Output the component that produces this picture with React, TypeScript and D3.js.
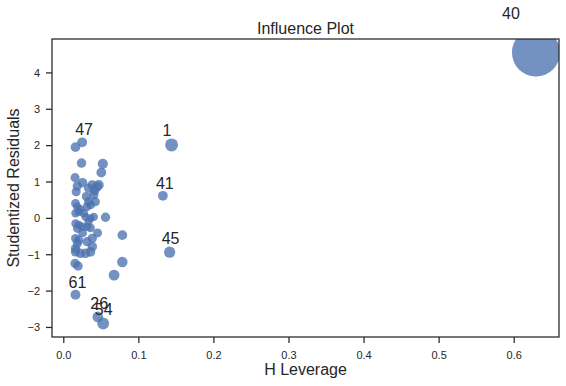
import * as d3 from 'd3';

// observation ids, leverage (hat), studentized residuals, cook's distance (relative)
const obsIds = [
  40, 1, 41, 45, 61, 26, 54, 47,
  2, 3, 4, 5, 6,
  7, 8, 9, 10, 11, 12,
  13, 14, 15, 16, 17, 18, 19, 20,
  21, 22, 23, 24, 25, 27,
  28, 29, 30, 31, 32, 33,
  34, 35, 36, 37, 38, 39, 42,
  43, 44, 46, 48, 49, 50, 51,
  52, 53, 55, 56,
  57, 58, 59, 60, 62,
];
const leverage = [
  0.629, 0.1436, 0.132, 0.141, 0.0156, 0.0453, 0.0525, 0.0245,
  0.0156, 0.0236, 0.052, 0.05, 0.015,
  0.0556, 0.078, 0.078, 0.067, 0.015, 0.019,
  0.018, 0.025, 0.038, 0.0445, 0.041, 0.0467, 0.033, 0.0165,
  0.0156, 0.018, 0.033, 0.0356, 0.031, 0.042,
  0.0156, 0.02, 0.0267, 0.029, 0.0356, 0.04,
  0.0156, 0.02, 0.018, 0.0245, 0.033, 0.031, 0.0356,
  0.0156, 0.02, 0.018, 0.0156, 0.031, 0.038, 0.038,
  0.0156, 0.022, 0.029, 0.0356,
  0.03, 0.022, 0.045, 0.025, 0.04,
];
const residuals = [
  4.56, 2.02, 0.62, -0.93, -2.1, -2.71, -2.89, 2.09,
  1.96, 1.52, 1.5, 1.26, 1.12,
  0.03, -0.46, -1.2, -1.56, -1.24, -1.31,
  0.89, 0.98, 0.92, 0.87, 0.76, 0.92, 0.83, 0.73,
  0.41, 0.32, 0.46, 0.37, 0.32, 0.46,
  0.14, 0.18, 0.14, 0.04, 0.0, 0.04,
  -0.14, -0.18, -0.28, -0.23, -0.09, -0.23, -0.26,
  -0.55, -0.6, -0.69, -0.83, -0.64, -0.55, -0.78,
  -0.92, -0.96, -0.96, -0.92,
  0.6, 0.25, -0.4, -0.4, 0.65,
];
const cooks = [
  1.0, 0.048, 0.016, 0.03, 0.017, 0.024, 0.036, 0.017,
  0.016, 0.014, 0.02, 0.016, 0.01,
  0.012, 0.016, 0.022, 0.026, 0.012, 0.013,
  0.012, 0.014, 0.014, 0.015, 0.013, 0.016, 0.012, 0.01,
  0.008, 0.007, 0.01, 0.009, 0.008, 0.011,
  0.005, 0.006, 0.006, 0.004, 0.002, 0.004,
  0.005, 0.006, 0.007, 0.006, 0.004, 0.006, 0.007,
  0.009, 0.01, 0.011, 0.012, 0.011, 0.012, 0.014,
  0.013, 0.014, 0.015, 0.015,
  0.01, 0.006, 0.01, 0.009, 0.012,
];
const labeledIds = [40, 1, 41, 45, 61, 26, 54, 47];
const xTicks = [0.0, 0.1, 0.2, 0.3, 0.4, 0.5, 0.6];
const yTicks = [-3, -2, -1, 0, 1, 2, 3, 4];

const W = 566;
const H = 386;
const margin = { top: 39, right: 7, bottom: 49, left: 52 };
const ink = '#262626';
const font = '"Liberation Sans", Arial, sans-serif';

const pad = (lo: number, hi: number): [number, number] => {
  const m = (hi - lo) * 0.05;
  return [lo - m, hi + m];
};

export default function App() {
  const x0 = margin.left;
  const x1 = W - margin.right;
  const y0 = margin.top;
  const y1 = H - margin.bottom;

  const xScale = d3
    .scaleLinear()
    .domain(pad(d3.min(leverage)!, d3.max(leverage)!))
    .range([x0, x1]);
  const yScale = d3
    .scaleLinear()
    .domain(pad(d3.min(residuals)!, d3.max(residuals)!))
    .range([y1, y0]);

  // marker area in px^2, like statsmodels: 8^2 .. 48^2
  const area = d3
    .scaleLinear()
    .domain([d3.min(cooks)!, d3.max(cooks)!])
    .range([64, 48 * 48]);

  const pts = obsIds.map((id, i) => ({
    id,
    x: xScale(leverage[i]),
    y: yScale(residuals[i]),
    s: area(cooks[i]),
  }));
  const labeled = pts.filter((p) => labeledIds.includes(p.id));

  return (
    <svg
      width={W}
      height={H}
      style={{ position: 'absolute', left: 0, top: 0, background: '#fff' }}
      fontFamily={font}
    >
      <defs>
        <clipPath id='axclip'>
          <rect x={x0} y={y0} width={x1 - x0} height={y1 - y0} />
        </clipPath>
      </defs>

      <g clipPath='url(#axclip)'>
        {pts.map((p, i) => (
          <circle
            key={i}
            cx={p.x}
            cy={p.y}
            r={Math.sqrt(p.s) / 2}
            fill='#4C72B0'
            fillOpacity={0.78}
          />
        ))}
      </g>

      {labeled.map((p) => {
        const off = Math.sqrt(p.s / 2);
        return (
          <text
            key={'l' + p.id}
            x={p.x - off}
            y={p.y - off}
            fontSize={16}
            fill={ink}
          >
            {p.id}
          </text>
        );
      })}

      {/* frame */}
      <rect
        x={x0}
        y={y0}
        width={x1 - x0}
        height={y1 - y0}
        fill='none'
        stroke={ink}
        strokeWidth={1.25}
      />

      {/* x ticks */}
      {xTicks.map((t) => (
        <g key={'x' + t} transform={`translate(${xScale(t)},${y1})`}>
          <line y1={0} y2={6} stroke={ink} strokeWidth={1.25} />
          <text y={22} textAnchor='middle' fontSize={11} fill={ink}>
            {d3.format('.1f')(t)}
          </text>
        </g>
      ))}

      {/* y ticks */}
      {yTicks.map((t) => (
        <g key={'y' + t} transform={`translate(${x0},${yScale(t)})`}>
          <line x1={0} x2={-6} stroke={ink} strokeWidth={1.25} />
          <text x={-12} dy='0.35em' textAnchor='end' fontSize={11} fill={ink}>
            {t < 0 ? '\u2212' + Math.abs(t) : t}
          </text>
        </g>
      ))}

      <text
        x={(x0 + x1) / 2}
        y={34}
        textAnchor='middle'
        fontSize={16}
        fill={ink}
      >
        Influence Plot
      </text>
      <text
        x={(x0 + x1) / 2}
        y={375}
        textAnchor='middle'
        fontSize={16}
        fill={ink}
      >
        H Leverage
      </text>
      <text
        transform={`translate(19,${(y0 + y1) / 2}) rotate(-90)`}
        textAnchor='middle'
        fontSize={16}
        fill={ink}
      >
        Studentized Residuals
      </text>
    </svg>
  );
}
